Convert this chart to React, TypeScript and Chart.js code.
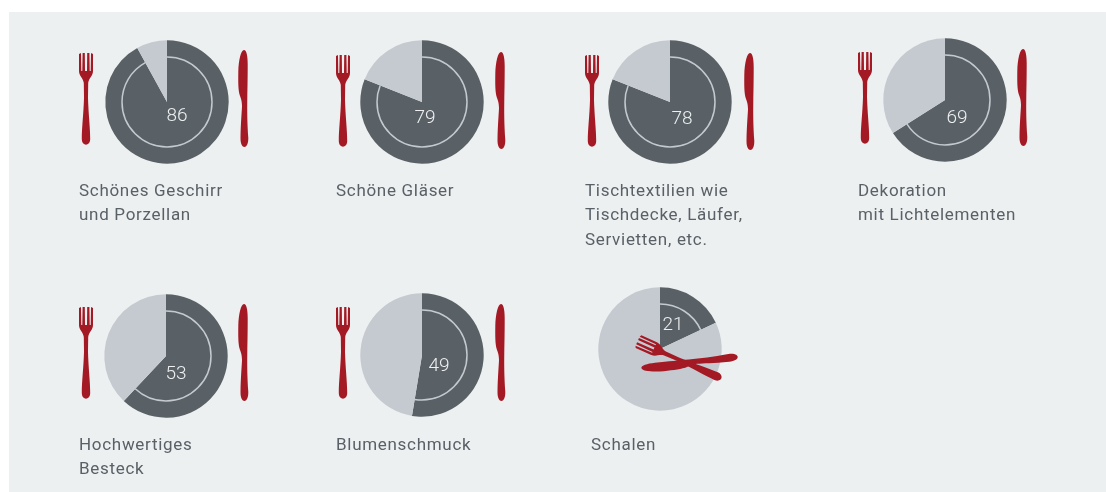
import React, { useEffect, useRef } from "react";
import { Chart, registerables } from "chart.js";

Chart.register(...registerables);

const labels = ["86", "79", "78", "69", "53", "49", "21"];
const sliceShares = [92, 81, 81, 66, 62, 52.6, 18];
const captions = [
  ["Schönes Geschirr", "und Porzellan"],
  ["Schöne Gläser"],
  ["Tischtextilien wie", "Tischdecke, Läufer,", "Servietten, etc."],
  ["Dekoration", "mit Lichtelementen"],
  ["Hochwertiges", "Besteck"],
  ["Blumenschmuck"],
  ["Schalen"],
];
const centersX = [167, 422, 670, 945, 166, 422, 660];
const centersY = [102, 102, 102, 100, 356, 355, 349];
const captionX = [79, 336, 585, 858, 79, 336, 591];
const captionY = [177.5, 177.5, 177.5, 177.5, 431.5, 431.5, 431.5];
const labelX = [177, 425, 682, 957, 176, 439, 673];
const labelY = [116.2, 118.2, 119.2, 118.2, 374.2, 366.5, 325.2];
// [x, y, rotationDeg] of each piece of cutlery
const forks = [[86, 53, 0], [343, 55, 0], [592, 55, 0], [865, 52, 0], [86, 307, 0], [343, 307, 0], [637.6, 341.2, -66]];
const knives = [[243, 50, 0], [500, 52, 0], [749, 53, 0], [1022, 49, 0], [243, 304, 0], [500, 304, 0], [641.5, 369, -96.4]];

const DARK = "#596166";
const LIGHT = "#c5cad1";
const RED = "#a31a25";
const PANEL = "#edf0f1";
const TEXT = "#5f666c";
const W = 300;
const H = 170;
const RING_RADIUS = 45;

const FORK = new Path2D(
  "M-7 1 L-7 18 C-7 23 -2.8 25 -2.2 30 L-2 45 C-2.4 60 -4.2 75 -4.2 86 C-4.2 93.5 4.2 93.5 4.2 86 C4.2 75 2.4 60 2 45 L2.2 30 C2.8 25 7 23 7 18 L7 1 L5 0 L4.7 18 L3.7 18 L3.4 0 L1.2 0 L1 18 L-1 18 L-1.2 0 L-3.4 0 L-3.7 18 L-4.7 18 L-5 0 Z"
);
const KNIFE = new Path2D(
  "M1 0 C3.5 0 4.7 6 4.7 14 C4.7 28 4.5 38 4.3 48 C4.1 60 4.2 72 5.3 88 C5.5 100 -2.7 100 -2.5 88 C-2.2 72 -1.2 62 -1 56 C-1.2 51 -1.8 49 -3 46 C-4.9 40 -4.8 32 -4.7 22 C-4.4 10 -2 0 1 0 Z"
);

function Pie({ i }: { i: number }) {
  const ref = useRef<HTMLCanvasElement>(null);
  useEffect(() => {
    const left = centersX[i] - W / 2;
    const top = centersY[i] - H / 2;
    const overlay = {
      id: "overlay",
      afterDraw(chart: any) {
        const ctx = chart.ctx;
        const arc = chart.getDatasetMeta(0).data[0];
        ctx.save();
        ctx.strokeStyle = LIGHT;
        ctx.lineWidth = 1.5;
        ctx.beginPath();
        ctx.arc(arc.x, arc.y, RING_RADIUS, arc.startAngle, arc.endAngle);
        ctx.stroke();
        ctx.fillStyle = RED;
        for (const [[x, y, rot], path] of [
          [forks[i], FORK],
          [knives[i], KNIFE],
        ] as any) {
          ctx.save();
          ctx.translate(x - left, y - top);
          ctx.rotate((rot * Math.PI) / 180);
          ctx.fill(path);
          ctx.restore();
        }
        ctx.fillStyle = "#eef0f2";
        ctx.font = "300 19px Roboto";
        ctx.textAlign = "center";
        ctx.textBaseline = "middle";
        ctx.fillText(labels[i], labelX[i] - left, labelY[i] - top);
        ctx.restore();
      },
    };
    const chart = new Chart(ref.current!, {
      type: "pie",
      data: {
        labels: ["Ja", "Nein"],
        datasets: [{ data: [sliceShares[i], 100 - sliceShares[i]], backgroundColor: [DARK, LIGHT] }],
      } as any,
      options: {
        animation: false,
        responsive: false,
        radius: 61.7,
        borderWidth: 0,
        layout: { padding: 0 },
        plugins: { legend: { display: false }, tooltip: { enabled: false } },
      } as any,
      plugins: [overlay],
    });
    return () => chart.destroy();
  }, [i]);
  return (
    <canvas
      ref={ref}
      width={W}
      height={H}
      style={{
        position: "absolute",
        left: centersX[i] - W / 2,
        top: centersY[i] - H / 2,
        width: W,
        height: H,
      }}
    />
  );
}

export default function App() {
  return (
    <div style={{ position: "fixed", left: 0, top: 0, width: 1106, height: 492, background: "#fff", overflow: "hidden" }}>
      <div style={{ position: "absolute", left: 9, top: 12, width: 1097, height: 480, background: PANEL }} />
      {labels.map((_, i) => (
        <Pie key={i} i={i} />
      ))}
      {captions.map((lines, i) => (
        <div
          key={i}
          style={{
            position: "absolute",
            left: captionX[i],
            top: captionY[i],
            font: "400 17px/24.5px Roboto",
            letterSpacing: "0.7px",
            color: "#596066",
            whiteSpace: "nowrap",
          }}
        >
          {lines.map((l, j) => (
            <div key={j}>{l}</div>
          ))}
        </div>
      ))}
    </div>
  );
}
